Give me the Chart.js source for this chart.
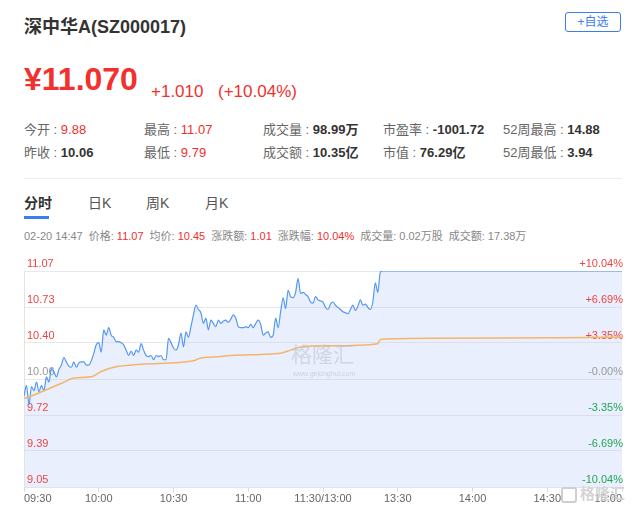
<!DOCTYPE html>
<html><head><meta charset="utf-8">
<script src="https://cdn.jsdelivr.net/npm/chart.js@4/dist/chart.umd.min.js"></script>
<style>
body{margin:0;background:#fff;width:636px;height:510px;overflow:hidden;position:relative;font-family:"Liberation Sans",Arial,"Noto Sans CJK SC",sans-serif;}
.a{position:absolute;white-space:nowrap;}
.title{left:24px;top:17px;font-size:18px;line-height:20px;font-weight:bold;color:#333;}
.btn{left:565px;top:12px;width:54px;height:18px;border:1px solid #3b7cf2;border-radius:3px;font-size:12px;line-height:18px;text-align:center;color:#3b7cf2;}
.price{left:24px;top:63px;font-size:32px;line-height:32px;font-weight:bold;color:#f2302e;}
.chg{top:83px;font-size:17px;line-height:17px;color:#f2302e;}
.st{font-size:13px;line-height:16px;color:#666;}
.st b{color:#333;}
.st .r{color:#f2302e;}
.sep{left:24px;top:178px;width:598px;height:1px;background:#eeeeee;}
.tab{top:195px;font-size:14px;line-height:16px;color:#555;}
.ul{left:24px;top:216px;width:25px;height:3px;background:#3b7cf2;}
.info{left:24px;top:229px;font-size:11px;line-height:14px;color:#888;display:flex;gap:6px;}
.info .r{color:#f2302e;}
#wrap{position:absolute;left:0;top:240px;width:636px;height:270px;}
.wm{left:291px;top:342px;font-size:21px;line-height:25px;color:rgba(185,190,200,0.5);}
.wm2{left:293px;top:370px;font-size:7px;line-height:8px;color:rgba(185,190,200,0.6);}
.logo{left:561px;top:487px;width:12px;height:12px;border:2px solid #cfcfcf;border-radius:3px;}
.logot{left:580px;top:485px;font-size:15px;line-height:18px;font-weight:bold;color:#d4d4d4;}
</style></head><body>
<div class="a title">深中华A(SZ000017)</div>
<div class="a btn">+自选</div>
<div class="a price">¥11.070</div>
<div class="a chg" style="left:151px">+1.010</div>
<div class="a chg" style="left:218px">(+10.04%)</div>

<div class="a st" style="left:24px;top:122px">今开 : <span class="r">9.88</span></div>
<div class="a st" style="left:144px;top:122px">最高 : <span class="r">11.07</span></div>
<div class="a st" style="left:263px;top:122px">成交量 : <b>98.99万</b></div>
<div class="a st" style="left:383px;top:122px">市盈率 : <b>-1001.72</b></div>
<div class="a st" style="left:503px;top:122px">52周最高 : <b>14.88</b></div>
<div class="a st" style="left:24px;top:145px">昨收 : <b>10.06</b></div>
<div class="a st" style="left:144px;top:145px">最低 : <span class="r">9.79</span></div>
<div class="a st" style="left:263px;top:145px">成交额 : <b>10.35亿</b></div>
<div class="a st" style="left:383px;top:145px">市值 : <b>76.29亿</b></div>
<div class="a st" style="left:503px;top:145px">52周最低 : <b>3.94</b></div>

<div class="a sep"></div>
<div class="a tab" style="left:24px;font-weight:bold;color:#333">分时</div>
<div class="a tab" style="left:88px">日K</div>
<div class="a tab" style="left:146px">周K</div>
<div class="a tab" style="left:205px">月K</div>
<div class="a ul"></div>

<div class="a info">
<span>02-20 14:47</span>
<span>价格: <span class="r">11.07</span></span>
<span>均价: <span class="r">10.45</span></span>
<span>涨跌额: <span class="r">1.01</span></span>
<span>涨跌幅: <span class="r">10.04%</span></span>
<span>成交量: 0.02万股</span>
<span>成交额: 17.38万</span>
</div>

<div id="wrap"><canvas id="c" width="636" height="270"></canvas></div>
<div class="a wm">格隆汇</div>
<div class="a wm2">www.gelonghui.com</div>
<div class="a logo"></div>
<div class="a logot">格隆汇</div>

<script>
const minutes = [0,1,2,3,4,5,6,7,8,9,10,11,12,13,14,15,16,17,18,19,20,21,22,23,24,25,26,27,28,29,30,31,32,33,34,35,36,37,38,39,40,41,42,43,44,45,46,47,48,49,50,51,52,53,54,55,56,57,58,59,60,61,62,63,64,65,66,67,68,69,70,71,72,73,74,75,76,77,78,79,80,81,82,83,84,85,86,87,88,89,90,91,92,93,94,95,96,97,98,99,100,101,102,103,104,105,106,107,108,109,110,111,112,113,114,115,116,117,118,119,120,121,122,123,124,125,126,127,128,129,130,131,132,133,134,135,136,137,138,139,140,141,142,143,144,240];
const prices = [9.90,10.00,9.82,9.99,9.95,10.03,9.94,10.00,9.95,10.08,10.03,10.16,10.13,10.08,10.15,10.19,10.26,10.22,10.18,10.17,10.22,10.17,10.21,10.22,10.22,10.19,10.19,10.23,10.30,10.38,10.40,10.31,10.52,10.47,10.54,10.47,10.45,10.41,10.41,10.40,10.38,10.33,10.28,10.32,10.28,10.33,10.31,10.39,10.33,10.28,10.27,10.28,10.24,10.28,10.27,10.28,10.24,10.24,10.44,10.40,10.35,10.33,10.38,10.49,10.36,10.50,10.45,10.55,10.66,10.75,10.71,10.68,10.58,10.63,10.52,10.61,10.58,10.55,10.61,10.58,10.60,10.61,10.59,10.62,10.66,10.63,10.55,10.54,10.54,10.55,10.54,10.57,10.54,10.58,10.61,10.57,10.47,10.49,10.50,10.45,10.47,10.63,10.54,10.69,10.82,10.72,10.89,10.83,10.82,10.87,11.00,10.86,10.87,10.85,10.83,10.78,10.77,10.83,10.80,10.79,10.78,10.73,10.71,10.76,10.78,10.75,10.73,10.71,10.69,10.68,10.67,10.71,10.75,10.70,10.74,10.80,10.75,10.76,10.73,10.71,10.78,10.96,10.87,11.06,11.07,11.07];
const avgMinutes = [0,4,9,16,20,27,31,36,43,48,68,70,79,83,95,103,107,111,123,142,143,164,240];
const avgPrices = [9.88,9.91,9.96,10.03,10.07,10.08,10.13,10.17,10.19,10.20,10.23,10.25,10.27,10.28,10.29,10.30,10.33,10.36,10.37,10.39,10.43,10.44,10.45];
const priceTicks = [9.05,9.39,9.72,10.06,10.40,10.73,11.07];
const pctTicks = ['-10.04%','-6.69%','-3.35%','-0.00%','+3.35%','+6.69%','+10.04%'];
const timeTicks = [0,30,60,90,120,150,180,210,240];
const timeLabels = ['09:30','10:00','10:30','11:00','11:30/13:00','13:30','14:00','14:30','15:00'];

const RED='#ee4444', GRAY='#999999', GREEN='#22a558';
const leftColors=[RED,RED,RED,GRAY,RED,RED,RED];
const rightColors=[GREEN,GREEN,GREEN,GRAY,RED,RED,RED];

new Chart(document.getElementById('c'),{
  type:'line',
  data:{datasets:[
    {label:'均价',data:avgMinutes.map((m,i)=>({x:m,y:avgPrices[i]})),borderColor:'#f6b46a',borderWidth:1.5,pointRadius:0,fill:false,order:1,cubicInterpolationMode:'monotone'},
    {label:'价格',data:minutes.map((m,i)=>({x:m,y:prices[i]})),borderColor:'#5598f2',borderWidth:1.2,pointRadius:0,fill:'start',backgroundColor:'#e9effc',order:2,cubicInterpolationMode:'monotone'}
  ]},
  options:{
    responsive:false,animation:false,events:[],
    layout:{padding:{left:24,right:14,top:31,bottom:0}},
    plugins:{legend:{display:false},tooltip:{enabled:false},filler:{drawTime:'beforeDraw'}},
    scales:{
      x:{type:'linear',min:0,max:240,
        afterBuildTicks:s=>{s.ticks=timeTicks.map(v=>({value:v}));},
        ticks:{callback:(v,i)=>timeLabels[i],align:'inner',maxRotation:0,autoSkip:false,color:'#666',font:{size:11},padding:0},
        grid:{drawOnChartArea:false,drawTicks:true,tickLength:5,color:'#dcdcdc'},
        border:{display:true,color:'#e3e3e3'},
        afterFit:s=>{s.height=23;}},
      y:{position:'left',min:9.05,max:11.07,
        afterBuildTicks:s=>{s.ticks=priceTicks.map(v=>({value:v}));},
        ticks:{mirror:true,padding:3,labelOffset:-7,callback:v=>v.toFixed(2),color:c=>leftColors[c.index],font:{size:11}},
        grid:{color:'rgba(200,205,215,0.45)',drawTicks:false},
        border:{display:true,color:'#e3e3e3'},
        afterFit:s=>{s.width=0;}},
      y2:{position:'right',min:9.05,max:11.07,
        afterBuildTicks:s=>{s.ticks=priceTicks.map(v=>({value:v}));},
        ticks:{mirror:true,padding:1,labelOffset:-7,callback:(v,i)=>pctTicks[i],color:c=>rightColors[c.index],font:{size:11}},
        grid:{display:false},border:{display:false},
        afterFit:s=>{s.width=0;}}
    }
  }
});
</script>
</body></html>
